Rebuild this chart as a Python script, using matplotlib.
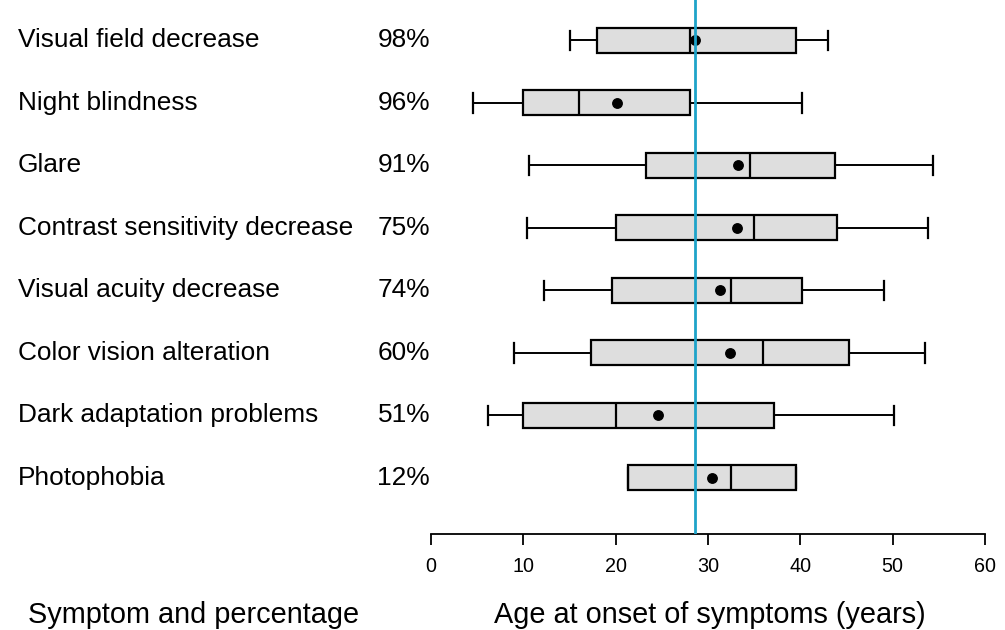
import matplotlib
matplotlib.use("Agg")
import matplotlib.pyplot as plt

# Symptoms, share of patients reporting them, and age-at-onset summaries (years)
symptoms = [
    "Visual field decrease",
    "Night blindness",
    "Glare",
    "Contrast sensitivity decrease",
    "Visual acuity decrease",
    "Color vision alteration",
    "Dark adaptation problems",
    "Photophobia",
]
percentages = [98, 96, 91, 75, 74, 60, 51, 12]
whisker_low = [15.0, 4.6, 10.6, 10.4, 12.2, 9.0, 6.2, 21.3]
q1 = [18.0, 10.0, 23.3, 20.0, 19.6, 17.3, 10.0, 21.3]
median = [28.0, 16.0, 34.5, 35.0, 32.5, 36.0, 20.0, 32.5]
mean = [28.6, 20.1, 33.3, 33.1, 31.3, 32.4, 24.6, 30.4]
q3 = [39.5, 28.0, 43.8, 44.0, 40.2, 45.3, 37.1, 39.5]
whisker_high = [43.0, 40.2, 54.4, 53.8, 49.1, 53.5, 50.1, 39.5]
overall_mean_age = 28.6
xticks = [0, 10, 20, 30, 40, 50, 60]

plt.rcParams["font.family"] = ["Liberation Sans", "DejaVu Sans"]

W, H = 1005, 630
fig = plt.figure(figsize=(W / 100, H / 100), dpi=100)

# axes placement in pixels
x0_px, x60_px = 431, 985
bottom_px, top_px = 534.3, 0
row_step_px = 62.5
ax = fig.add_axes([x0_px / W, 1 - bottom_px / H,
                   (x60_px - x0_px) / W, (bottom_px - top_px) / H])

n = len(symptoms)
positions = [n - i for i in range(n)]  # first symptom on top

stats = []
for i in range(n):
    stats.append(dict(med=median[i], q1=q1[i], q3=q3[i],
                      whislo=whisker_low[i], whishi=whisker_high[i],
                      mean=mean[i], fliers=[], label=symptoms[i]))

ax.bxp(stats, positions=positions, vert=False, widths=0.4,
       showmeans=True, meanline=False, patch_artist=True,
       capwidths=0.31, showfliers=False,
       boxprops=dict(facecolor="#dedede", edgecolor="black", linewidth=1.6),
       medianprops=dict(color="black", linewidth=1.6),
       whiskerprops=dict(color="black", linewidth=1.4),
       capprops=dict(color="black", linewidth=1.6),
       meanprops=dict(marker="o", markerfacecolor="black",
                      markeredgecolor="black", markersize=6.8),
       zorder=2)

ax.axvline(overall_mean_age, color="#1ea3c9", linewidth=2.0, zorder=4)

ax.set_xlim(0, 60)
ax.set_ylim(positions[-1] - (bottom_px - 478.0) / row_step_px,
            positions[0] + 40.3 / row_step_px)

for s in ("top", "right", "left"):
    ax.spines[s].set_visible(False)
ax.spines["bottom"].set_linewidth(1.3)
ax.set_yticks([])
ax.set_xticks(xticks)
ax.set_xticklabels([str(t) for t in xticks])
ax.tick_params(axis="x", length=8, width=1.3, pad=8, labelsize=14.2)
ax.patch.set_alpha(0)

# Row labels and percentages, aligned with each box
label_fs = 18.9
for i in range(n):
    yy = ax.transData.transform((0, positions[i]))[1]
    fig.text(18 / W, yy / H, symptoms[i], fontsize=label_fs,
             ha="left", va="center")
    fig.text(430 / W, yy / H, f"{percentages[i]}%", fontsize=label_fs,
             ha="right", va="center")

# Column titles
title_fs = 20.8
fig.text(710 / W, 1 - 623.3 / H, "Age at onset of symptoms (years)",
         fontsize=title_fs, ha="center", va="baseline")
fig.text(194 / W, 1 - 623.3 / H, "Symptom and percentage",
         fontsize=title_fs, ha="center", va="baseline")

fig.savefig("out.png", dpi=100)
